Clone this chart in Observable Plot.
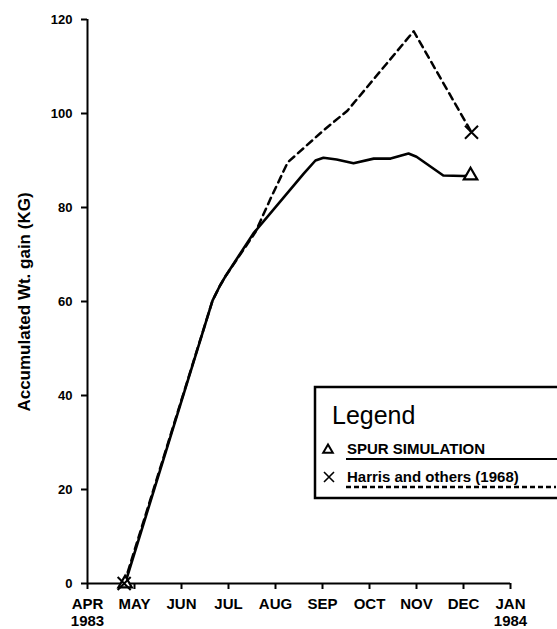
<!DOCTYPE html>
<html>
<head>
<meta charset="utf-8">
<script src="https://cdn.jsdelivr.net/npm/d3@7"></script>
<script src="https://cdn.jsdelivr.net/npm/@observablehq/plot@0.6"></script>
<style>
  html, body { margin: 0; padding: 0; background: #fff; }
  #chart svg { display: block; }
</style>
</head>
<body>
<div id="chart"></div>
<script>
// Month positions: 0 = APR 1983 ... 9 = JAN 1984
const monthTicks = [0, 1, 2, 3, 4, 5, 6, 7, 8, 9];
const monthLabels = ["APR\n1983", "MAY", "JUN", "JUL", "AUG", "SEP", "OCT", "NOV", "DEC", "JAN\n1984"];
const gainTicks = [0, 20, 40, 60, 80, 100, 120];

// SPUR simulation (solid line)
const simMonth = [0.8, 2.66, 2.82, 2.95, 3.53, 4.6, 4.85, 5.02, 5.3, 5.66, 6.09, 6.45, 6.83, 7.0, 7.57, 8.0, 8.15];
const simGain  = [0, 60.2, 63.4, 65.6, 74.5, 87.2, 90.0, 90.6, 90.2, 89.4, 90.4, 90.4, 91.5, 90.8, 86.8, 86.7, 86.8];

// Harris and others (1968) (dashed line)
const harrisMonth = [0.78, 2.66, 2.82, 2.95, 3.57, 3.9, 4.26, 5.02, 5.53, 6.94, 8.17];
const harrisGain  = [0, 60.2, 63.4, 65.6, 74.7, 82, 89.6, 96.4, 100.6, 117.5, 96];

const sim = simMonth.map((m, i) => ({m, g: simGain[i]}));
const harris = harrisMonth.map((m, i) => ({m, g: harrisGain[i]}));
const simEnds = [sim[0], sim[sim.length - 1]];
const harrisEnds = [harris[0], harris[harris.length - 1]];

const FONT = "'Liberation Sans', Arial, sans-serif";

const plot = Plot.plot({
  width: 557,
  height: 629,
  marginLeft: 87,
  marginRight: 47,
  marginTop: 19,
  marginBottom: 46,
  style: {fontFamily: FONT, background: "white", color: "black"},
  x: {domain: [0, 9]},
  y: {domain: [0, 120]},
  marks: [
    Plot.axisY({
      ticks: gainTicks, tickSize: 6, tickPadding: 9, label: null,
      fontSize: 13, fontWeight: "bold", strokeWidth: 2
    }),
    Plot.axisX({
      ticks: monthTicks, tickFormat: (d) => monthLabels[d], tickSize: 6, tickPadding: 8,
      label: null, fontSize: 15, fontWeight: "bold", strokeWidth: 2, lineHeight: 1.1
    }),
    Plot.ruleX([0], {stroke: "black", strokeWidth: 2}),
    Plot.ruleY([0], {stroke: "black", strokeWidth: 2}),
    Plot.line(harris, {x: "m", y: "g", stroke: "black", strokeWidth: 2.5, strokeDasharray: "7,5"}),
    Plot.line(sim, {x: "m", y: "g", stroke: "black", strokeWidth: 2.6, strokeLinejoin: "round"}),
    Plot.dot(simEnds, {x: "m", y: "g", symbol: "triangle", r: 5, stroke: "black", strokeWidth: 2.2, fill: "white"}),
    Plot.dot(harrisEnds, {x: "m", y: "g", symbol: "times", r: 6, stroke: "black", strokeWidth: 2})
  ]
});

document.getElementById("chart").appendChild(plot);

// Y axis title and legend overlay
const svg = d3.select(plot);
svg.append("text")
  .attr("transform", "translate(30,302) rotate(-90)")
  .attr("text-anchor", "middle")
  .attr("font-family", FONT)
  .attr("font-size", 17)
  .attr("font-weight", "bold")
  .attr("fill", "black")
  .text("Accumulated Wt. gain (KG)");

const lg = svg.append("g").attr("font-family", FONT).attr("text-anchor", "start");
lg.append("rect")
  .attr("x", 315).attr("y", 387).attr("width", 250).attr("height", 111)
  .attr("fill", "white").attr("stroke", "black").attr("stroke-width", 2.5);
lg.append("text")
  .attr("x", 332).attr("y", 424)
  .attr("font-size", 25).attr("fill", "black")
  .text("Legend");
lg.append("path")
  .attr("d", d3.symbol(d3.symbolTriangle, 40)())
  .attr("transform", "translate(328,450)")
  .attr("fill", "white").attr("stroke", "black").attr("stroke-width", 2);
lg.append("text")
  .attr("x", 347).attr("y", 454)
  .attr("font-size", 15).attr("font-weight", "bold").attr("fill", "black")
  .text("SPUR SIMULATION");
lg.append("line")
  .attr("x1", 346).attr("x2", 565).attr("y1", 459).attr("y2", 459)
  .attr("stroke", "black").attr("stroke-width", 2);
lg.append("path")
  .attr("d", "M-5,-5L5,5M-5,5L5,-5")
  .attr("transform", "translate(329,477)")
  .attr("fill", "none").attr("stroke", "black").attr("stroke-width", 1.6);
lg.append("text")
  .attr("x", 347).attr("y", 482)
  .attr("font-size", 15).attr("font-weight", "bold").attr("fill", "black")
  .text("Harris and others (1968)");
lg.append("line")
  .attr("x1", 346).attr("x2", 556).attr("y1", 487).attr("y2", 487)
  .attr("stroke", "black").attr("stroke-width", 2.5).attr("stroke-dasharray", "5,3");
</script>
</body>
</html>
